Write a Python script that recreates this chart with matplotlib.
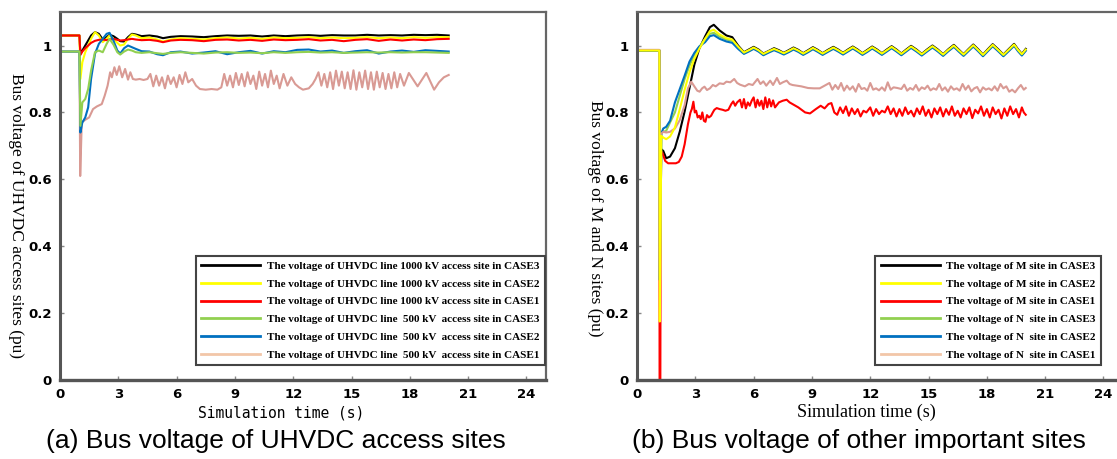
import matplotlib
matplotlib.use("Agg")
import matplotlib.pyplot as plt
from matplotlib.lines import Line2D

# ---------------- (a) UHVDC access sites ----------------
t_a = [0, 1.0, 1.05, 1.15, 1.3, 1.45, 1.6, 1.8,
       2.0, 2.2, 2.4, 2.55, 2.75, 2.95, 3.1, 3.3,
       3.5, 3.7, 3.9, 4.2, 4.6, 5.0, 5.3, 5.7,
       6.2, 6.8, 7.4, 8.0, 8.6, 9.2, 9.8, 10.4,
       11.0, 11.6, 12.2, 12.8, 13.4, 14.0, 14.6, 15.2,
       15.8, 16.4, 17.0, 17.6, 18.2, 18.8, 19.4, 20.0]

uhv1000_case3 = [1.03, 1.03, 0.975, 0.985, 1.0, 1.015, 1.03, 1.04,
                 1.035, 1.018, 1.025, 1.032, 1.028, 1.02, 1.013, 1.012,
                 1.025, 1.035, 1.033, 1.028, 1.03, 1.027, 1.022, 1.026,
                 1.028, 1.027, 1.025, 1.028, 1.03, 1.029, 1.03, 1.027,
                 1.03, 1.028, 1.03, 1.031, 1.029, 1.031, 1.03, 1.03,
                 1.032, 1.03, 1.031, 1.03, 1.032, 1.031, 1.032, 1.03]
uhv1000_case2 = [1.03, 1.03, 0.90, 0.95, 0.98, 1.0, 1.02, 1.04,
                 1.03, 1.01, 1.02, 1.03, 1.02, 1.008, 1.0, 1.003,
                 1.02, 1.033, 1.03, 1.022, 1.024, 1.018, 1.012, 1.018,
                 1.022, 1.02, 1.018, 1.022, 1.024, 1.021, 1.023, 1.02,
                 1.024, 1.022, 1.023, 1.025, 1.022, 1.024, 1.022, 1.023,
                 1.025, 1.022, 1.024, 1.022, 1.025, 1.023, 1.025, 1.025]
uhv1000_case1 = [1.03, 1.03, 0.972, 0.982, 0.992, 1.0, 1.008, 1.014,
                 1.017, 1.018, 1.016, 1.018, 1.02, 1.017, 1.015, 1.016,
                 1.018, 1.02, 1.018, 1.016, 1.017, 1.014, 1.01, 1.015,
                 1.017, 1.016, 1.013, 1.017, 1.018, 1.015, 1.017, 1.014,
                 1.018, 1.016, 1.017, 1.019, 1.015, 1.017, 1.013, 1.017,
                 1.019, 1.014, 1.018, 1.015, 1.018, 1.016, 1.019, 1.02]
uhv500_case3 = [0.982, 0.982, 0.76, 0.83, 0.84, 0.87, 0.925, 0.98,
                0.985, 0.98, 1.005, 1.02, 1.003, 0.98, 0.973, 0.982,
                0.988, 0.985, 0.98, 0.978, 0.98, 0.977, 0.975, 0.978,
                0.98, 0.978, 0.976, 0.979, 0.98, 0.978, 0.979, 0.977,
                0.98, 0.978, 0.98, 0.981, 0.979, 0.98, 0.978, 0.979,
                0.98, 0.979, 0.98, 0.979, 0.98, 0.98, 0.979, 0.978]
uhv500_case2 = [0.982, 0.982, 0.74, 0.77, 0.785, 0.815, 0.9, 0.975,
                1.005, 1.02, 1.035, 1.038, 1.015, 0.985, 0.976, 0.992,
                1.0, 0.995, 0.99, 0.983, 0.982, 0.974, 0.971, 0.98,
                0.982, 0.976, 0.979, 0.983, 0.974, 0.98, 0.984, 0.976,
                0.983, 0.98, 0.987, 0.988, 0.982, 0.985, 0.978, 0.983,
                0.986, 0.976, 0.982, 0.985, 0.981, 0.986, 0.984, 0.982]
uhv500_case1 = [
    (0, 0.982), (1.0, 0.982), (1.04, 0.61), (1.12, 0.77), (1.3, 0.778), (1.5, 0.785),
    (1.7, 0.81), (1.9, 0.818), (2.15, 0.825), (2.3, 0.85), (2.45, 0.88), (2.58, 0.92),
    (2.67, 0.905), (2.8, 0.935), (2.92, 0.912), (3.05, 0.938), (3.2, 0.905), (3.35, 0.93),
    (3.5, 0.898), (3.62, 0.92), (3.75, 0.9), (3.9, 0.898), (4.1, 0.9), (4.3, 0.897),
    (4.5, 0.9), (4.65, 0.915), (4.8, 0.878), (4.95, 0.91), (5.1, 0.88), (5.25, 0.905),
    (5.4, 0.872), (5.55, 0.91), (5.7, 0.885), (5.85, 0.905), (6.0, 0.875), (6.15, 0.912),
    (6.3, 0.885), (6.45, 0.92), (6.6, 0.89), (6.8, 0.9), (7.0, 0.88), (7.2, 0.87),
    (7.5, 0.868), (7.8, 0.87), (8.1, 0.868), (8.3, 0.875), (8.45, 0.915), (8.6, 0.88),
    (8.75, 0.91), (8.9, 0.875), (9.05, 0.918), (9.2, 0.882), (9.35, 0.915), (9.5, 0.878),
    (9.65, 0.92), (9.8, 0.885), (9.95, 0.91), (10.1, 0.87), (10.25, 0.922), (10.4, 0.88),
    (10.55, 0.915), (10.7, 0.875), (10.85, 0.925), (11.0, 0.885), (11.15, 0.91), (11.3, 0.872),
    (11.5, 0.915), (11.7, 0.88), (11.9, 0.905), (12.1, 0.885), (12.3, 0.875), (12.5, 0.868),
    (12.8, 0.872), (13.0, 0.885), (13.15, 0.9), (13.3, 0.92), (13.45, 0.88), (13.6, 0.915),
    (13.75, 0.875), (13.9, 0.92), (14.05, 0.87), (14.2, 0.925), (14.35, 0.88), (14.5, 0.922),
    (14.65, 0.872), (14.8, 0.92), (14.95, 0.87), (15.1, 0.926), (15.25, 0.868), (15.4, 0.92),
    (15.55, 0.875), (15.7, 0.925), (15.85, 0.87), (16.0, 0.92), (16.15, 0.868), (16.3, 0.922),
    (16.45, 0.875), (16.6, 0.918), (16.75, 0.87), (16.9, 0.915), (17.05, 0.872), (17.2, 0.92),
    (17.35, 0.875), (17.5, 0.915), (17.7, 0.88), (17.95, 0.918), (18.4, 0.878), (18.85, 0.918),
    (19.25, 0.868), (19.5, 0.89), (19.75, 0.905), (20.0, 0.912)]

# ---------------- (b) M and N sites ----------------
t_b = [0, 1.15, 1.17, 1.25, 1.35, 1.5, 1.7, 1.95, 2.2, 2.45,
       2.7, 2.95, 3.2, 3.5, 3.75, 3.95, 4.25, 4.6, 4.9, 5.2,
       5.5, 5.75, 6.0, 6.25, 6.5, 6.78, 7.05, 7.3,
       7.55, 7.8, 8.05, 8.3, 8.55, 8.8, 9.05, 9.3,
       9.55, 9.82, 10.1, 10.35, 10.6, 10.85, 11.1, 11.35,
       11.6, 11.85, 12.1, 12.35, 12.6, 12.85, 13.1, 13.35,
       13.6, 13.85, 14.1, 14.38, 14.65, 14.92, 15.2, 15.48,
       15.75, 16.02, 16.3, 16.55, 16.8, 17.05, 17.3, 17.55,
       17.8, 18.05, 18.3, 18.58, 18.85, 19.12, 19.4, 19.6,
       19.8, 20.0]

m_case3 = [0.985, 0.985, 0.30, 0.69, 0.685, 0.663, 0.668, 0.693, 0.743, 0.803,
           0.873, 0.943, 0.99, 1.027, 1.055, 1.062, 1.045, 1.03, 1.025, 1.0,
           0.980, 0.988, 0.996, 0.988, 0.976, 0.984, 0.992, 0.986,
           0.978, 0.986, 0.994, 0.987, 0.977, 0.986, 0.995, 0.987,
           0.977, 0.987, 0.996, 0.988, 0.978, 0.988, 0.997, 0.988,
           0.977, 0.987, 0.997, 0.988, 0.977, 0.988, 0.998, 0.988,
           0.976, 0.988, 0.999, 0.988, 0.975, 0.988, 1.0, 0.988,
           0.974, 0.989, 1.002, 0.988, 0.974, 0.989, 1.003, 0.989,
           0.973, 0.989, 1.004, 0.989, 0.973, 0.989, 1.005, 0.989,
           0.975, 0.99]
m_case2 = [0.985, 0.985, 0.175, 0.73, 0.725, 0.72, 0.728, 0.755, 0.81, 0.868,
           0.92, 0.96, 0.99, 1.02, 1.043, 1.047, 1.033, 1.022, 1.018, 0.997,
           0.979, 0.986, 0.994, 0.986, 0.975, 0.983, 0.990, 0.984,
           0.977, 0.984, 0.992, 0.985, 0.976, 0.984, 0.993, 0.985,
           0.976, 0.985, 0.994, 0.986, 0.977, 0.986, 0.995, 0.986,
           0.976, 0.985, 0.995, 0.986, 0.976, 0.986, 0.996, 0.986,
           0.975, 0.986, 0.997, 0.986, 0.974, 0.986, 0.998, 0.986,
           0.973, 0.987, 1.0, 0.986, 0.973, 0.987, 1.001, 0.987,
           0.972, 0.987, 1.002, 0.987, 0.972, 0.987, 1.003, 0.987,
           0.974, 0.988]
m_case1 = [
    (0, 0.985), (1.15, 0.985), (1.16, 0.0), (1.2, 0.0), (1.22, 0.685), (1.3, 0.68),
    (1.45, 0.655), (1.6, 0.648), (2.0, 0.648), (2.15, 0.652), (2.3, 0.668), (2.45, 0.705),
    (2.62, 0.765), (2.75, 0.8), (2.82, 0.81), (2.9, 0.832), (2.97, 0.8), (3.04, 0.805),
    (3.12, 0.785), (3.2, 0.79), (3.28, 0.78), (3.36, 0.8), (3.44, 0.775), (3.52, 0.772),
    (3.6, 0.792), (3.7, 0.785), (3.81, 0.79), (3.9, 0.8), (3.98, 0.808), (4.1, 0.813),
    (4.25, 0.81), (4.4, 0.808), (4.55, 0.805), (4.7, 0.808), (4.85, 0.825), (4.95, 0.833),
    (5.05, 0.82), (5.15, 0.83), (5.3, 0.838), (5.4, 0.815), (5.5, 0.84), (5.6, 0.812),
    (5.7, 0.83), (5.8, 0.82), (5.9, 0.835), (6.0, 0.845), (6.1, 0.815), (6.2, 0.838),
    (6.3, 0.82), (6.4, 0.835), (6.5, 0.81), (6.6, 0.845), (6.7, 0.815), (6.8, 0.84),
    (6.9, 0.818), (7.0, 0.836), (7.1, 0.815), (7.3, 0.83), (7.5, 0.835), (7.7, 0.838),
    (7.85, 0.83), (8.0, 0.825), (8.3, 0.815), (8.65, 0.8), (8.9, 0.797), (9.2, 0.81),
    (9.45, 0.82), (9.65, 0.812), (9.85, 0.825), (10.0, 0.828), (10.15, 0.8), (10.3, 0.793),
    (10.45, 0.815), (10.6, 0.798), (10.75, 0.818), (10.9, 0.79), (11.05, 0.812), (11.2, 0.795),
    (11.35, 0.81), (11.5, 0.788), (11.65, 0.805), (11.8, 0.8), (12.0, 0.815), (12.15, 0.79),
    (12.3, 0.81), (12.45, 0.795), (12.6, 0.805), (12.75, 0.8), (12.9, 0.818), (13.05, 0.795),
    (13.2, 0.812), (13.35, 0.788), (13.5, 0.81), (13.65, 0.79), (13.8, 0.815), (13.95, 0.795),
    (14.1, 0.805), (14.25, 0.788), (14.4, 0.812), (14.55, 0.795), (14.7, 0.818), (14.85, 0.79),
    (15.0, 0.808), (15.15, 0.785), (15.3, 0.812), (15.45, 0.795), (15.6, 0.815), (15.75, 0.788),
    (15.9, 0.81), (16.05, 0.793), (16.2, 0.818), (16.35, 0.79), (16.5, 0.805), (16.65, 0.785),
    (16.8, 0.812), (16.95, 0.795), (17.1, 0.815), (17.25, 0.783), (17.4, 0.808), (17.55, 0.797),
    (17.7, 0.818), (17.85, 0.79), (18.0, 0.81), (18.15, 0.785), (18.3, 0.815), (18.45, 0.795),
    (18.6, 0.808), (18.75, 0.782), (18.9, 0.812), (19.05, 0.79), (19.2, 0.818), (19.35, 0.795),
    (19.5, 0.81), (19.65, 0.785), (19.8, 0.815), (19.9, 0.8), (20.0, 0.793)]
n_case3 = [0.985, 0.985, 0.30, 0.74, 0.742, 0.745, 0.77, 0.80, 0.85, 0.90,
           0.94, 0.972, 0.995, 1.02, 1.035, 1.038, 1.027, 1.018, 1.014, 0.995,
           0.977, 0.984, 0.992, 0.984, 0.973, 0.981, 0.988, 0.982,
           0.975, 0.982, 0.990, 0.983, 0.974, 0.982, 0.991, 0.983,
           0.974, 0.983, 0.992, 0.984, 0.975, 0.984, 0.993, 0.984,
           0.974, 0.983, 0.993, 0.984, 0.974, 0.984, 0.994, 0.984,
           0.973, 0.984, 0.995, 0.984, 0.972, 0.984, 0.996, 0.984,
           0.971, 0.985, 0.998, 0.984, 0.971, 0.985, 0.999, 0.985,
           0.970, 0.985, 1.0, 0.985, 0.970, 0.985, 1.001, 0.985,
           0.972, 0.986]
n_case2 = [0.985, 0.985, 0.30, 0.737, 0.752, 0.757, 0.775, 0.83, 0.87, 0.91,
           0.952, 0.978, 0.997, 1.01, 1.028, 1.031, 1.02, 1.012, 1.008, 0.99,
           0.975, 0.982, 0.990, 0.982, 0.971, 0.979, 0.986, 0.980,
           0.973, 0.980, 0.988, 0.981, 0.972, 0.980, 0.989, 0.981,
           0.972, 0.981, 0.990, 0.982, 0.973, 0.982, 0.991, 0.982,
           0.972, 0.981, 0.991, 0.982, 0.972, 0.982, 0.992, 0.982,
           0.971, 0.982, 0.993, 0.982, 0.970, 0.982, 0.994, 0.982,
           0.969, 0.983, 0.996, 0.982, 0.969, 0.983, 0.997, 0.983,
           0.968, 0.983, 0.998, 0.983, 0.968, 0.983, 0.999, 0.983,
           0.970, 0.984]
n_case1 = [
    (0, 0.987), (1.15, 0.987), (1.16, 0.3), (1.2, 0.3), (1.22, 0.735), (1.35, 0.742),
    (1.5, 0.74), (1.7, 0.742), (1.95, 0.752), (2.2, 0.777), (2.45, 0.822), (2.62, 0.872),
    (2.79, 0.892), (2.96, 0.877), (3.1, 0.865), (3.22, 0.862), (3.35, 0.872), (3.47, 0.877),
    (3.6, 0.867), (3.75, 0.872), (3.9, 0.882), (4.05, 0.878), (4.25, 0.887), (4.45, 0.885),
    (4.6, 0.892), (4.8, 0.89), (5.0, 0.9), (5.15, 0.888), (5.3, 0.883), (5.55, 0.878),
    (5.75, 0.885), (5.95, 0.882), (6.2, 0.9), (6.35, 0.885), (6.5, 0.893), (6.65, 0.88),
    (6.85, 0.895), (7.0, 0.882), (7.2, 0.903), (7.35, 0.885), (7.5, 0.89), (7.7, 0.895),
    (7.85, 0.885), (8.0, 0.882), (8.45, 0.878), (8.8, 0.873), (9.1, 0.872), (9.4, 0.872),
    (9.65, 0.88), (9.9, 0.888), (10.05, 0.868), (10.2, 0.882), (10.35, 0.87), (10.5, 0.888),
    (10.65, 0.865), (10.8, 0.88), (10.95, 0.868), (11.1, 0.878), (11.25, 0.862), (11.4, 0.885),
    (11.55, 0.87), (11.7, 0.873), (11.85, 0.865), (12.0, 0.888), (12.15, 0.868), (12.3, 0.872),
    (12.45, 0.866), (12.6, 0.875), (12.75, 0.865), (12.9, 0.89), (13.05, 0.868), (13.2, 0.875),
    (13.4, 0.873), (13.6, 0.87), (13.75, 0.883), (13.9, 0.865), (14.05, 0.873), (14.2, 0.868),
    (14.35, 0.882), (14.5, 0.865), (14.65, 0.875), (14.8, 0.87), (14.95, 0.88), (15.1, 0.866),
    (15.25, 0.872), (15.4, 0.868), (15.55, 0.885), (15.7, 0.866), (15.85, 0.875), (16.0, 0.862),
    (16.15, 0.878), (16.3, 0.868), (16.45, 0.872), (16.6, 0.865), (16.75, 0.885), (16.9, 0.868),
    (17.05, 0.88), (17.2, 0.863), (17.35, 0.872), (17.5, 0.876), (17.65, 0.86), (17.8, 0.875),
    (17.95, 0.868), (18.1, 0.872), (18.25, 0.866), (18.4, 0.878), (18.55, 0.865), (18.7, 0.885),
    (18.85, 0.872), (19.0, 0.878), (19.15, 0.862), (19.3, 0.868), (19.45, 0.86), (19.6, 0.872),
    (19.75, 0.882), (19.9, 0.868), (20.0, 0.873)]

labels_a = ["The voltage of UHVDC line 1000 kV access site in CASE3",
            "The voltage of UHVDC line 1000 kV access site in CASE2",
            "The voltage of UHVDC line 1000 kV access site in CASE1",
            "The voltage of UHVDC line  500 kV  access site in CASE3",
            "The voltage of UHVDC line  500 kV  access site in CASE2",
            "The voltage of UHVDC line  500 kV  access site in CASE1"]
labels_b = ["The voltage of M site in CASE3",
            "The voltage of M site in CASE2",
            "The voltage of M site in CASE1",
            "The voltage of N  site in CASE3",
            "The voltage of N  site in CASE2",
            "The voltage of N  site in CASE1"]
xticks = [0, 3, 6, 9, 12, 15, 18, 21, 24]
yticks = [0, 0.2, 0.4, 0.6, 0.8, 1.0]
ytick_labels = ["0", "0.2", "0.4", "0.6", "0.8", "1"]

BLACK, YELLOW, RED = "#000000", "#ffff00", "#ff0000"
GREEN, BLUE, PINK = "#92d050", "#0070c0", "#d99a94"
PEACH = "#f2c6a8"
legend_colors = [BLACK, YELLOW, RED, GREEN, BLUE, PEACH]


def style_axes(ax):
    ax.set_xlim(0, 25)
    ax.set_ylim(0, 1.1)
    ax.set_xticks(xticks)
    ax.set_yticks(yticks)
    ax.set_yticklabels(ytick_labels)
    for s in ["top", "right"]:
        ax.spines[s].set_color("#666666")
        ax.spines[s].set_linewidth(1.6)
    ax.spines["left"].set_color("#555555")
    ax.spines["left"].set_linewidth(2.2)
    ax.spines["bottom"].set_color("#555555")
    ax.spines["bottom"].set_linewidth(2.4)
    ax.tick_params(direction="in", length=3, width=1, color="#888888", pad=6)
    for lab in ax.get_xticklabels() + ax.get_yticklabels():
        lab.set_fontweight("bold")
        lab.set_fontsize(9.5)
        lab.set_family("DejaVu Sans")


def add_legend(ax, labels, anchor, loc):
    handles = [Line2D([], [], color=c, lw=2) for c in legend_colors]
    leg = ax.legend(handles, labels, loc=loc, bbox_to_anchor=anchor,
                    prop={"family": "Liberation Serif", "weight": "bold", "size": 8},
                    handlelength=5.3, handletextpad=0.6, labelspacing=0.72,
                    borderpad=0.5, fancybox=False, framealpha=1, borderaxespad=0)
    leg.get_frame().set_edgecolor("#444444")
    leg.get_frame().set_linewidth(1.5)


fig = plt.figure(figsize=(11.17, 4.59), dpi=100)
ax1 = fig.add_axes([0.0537, 0.172, 0.435, 0.8017])
ax2 = fig.add_axes([0.5703, 0.172, 0.435, 0.8017])

# panel (a)
tp, vp = zip(*uhv500_case1)
ax1.plot(tp, vp, color=PINK, lw=1.5)
ax1.plot(t_a, uhv1000_case3, color=BLACK, lw=1.5)
ax1.plot(t_a, uhv1000_case2, color=YELLOW, lw=1.5)
ax1.plot(t_a, uhv1000_case1, color=RED, lw=1.5)
ax1.plot(t_a, uhv500_case2, color=BLUE, lw=1.5)
ax1.plot(t_a, uhv500_case3, color=GREEN, lw=1.5)
style_axes(ax1)
add_legend(ax1, labels_a, (0.998, 0.04), "lower right")

# panel (b)
ax2.plot(t_b, m_case3, color=BLACK, lw=1.5)
tr, vr = zip(*m_case1)
ax2.plot(tr, vr, color=RED, lw=1.5)
ax2.plot(t_b, n_case3, color=GREEN, lw=1.5)
ax2.plot(t_b, n_case2, color=BLUE, lw=1.5)
tn, vn = zip(*n_case1)
ax2.plot(tn, vn, color=PINK, lw=1.5)
ax2.plot(t_b, m_case2, color=YELLOW, lw=1.5)
style_axes(ax2)
add_legend(ax2, labels_b, (0.49, 0.04), "lower left")

fig.text(0.2516, 0.1, "Simulation time (s)", ha="center", va="center",
         family="DejaVu Sans Mono", fontsize=10.5)
fig.text(0.776, 0.102, "Simulation time (s)", ha="center", va="center",
         family="Liberation Serif", fontsize=13)

fig.text(0.0145, 0.53, "Bus voltage of UHVDC access sites (pu)", rotation=-90,
         ha="center", va="center", family="Liberation Serif", fontsize=12.5)
fig.text(0.533, 0.525, "Bus voltage of M and N sites (pu)", rotation=-90,
         ha="center", va="center", family="Liberation Serif", fontsize=12.5)

fig.text(0.247, 0.04, "(a) Bus voltage of UHVDC access sites", ha="center", va="center",
         family="Liberation Sans", fontsize=19)
fig.text(0.769, 0.04, "(b) Bus voltage of other important sites", ha="center", va="center",
         family="Liberation Sans", fontsize=19)

fig.savefig("out.png", dpi=100)
